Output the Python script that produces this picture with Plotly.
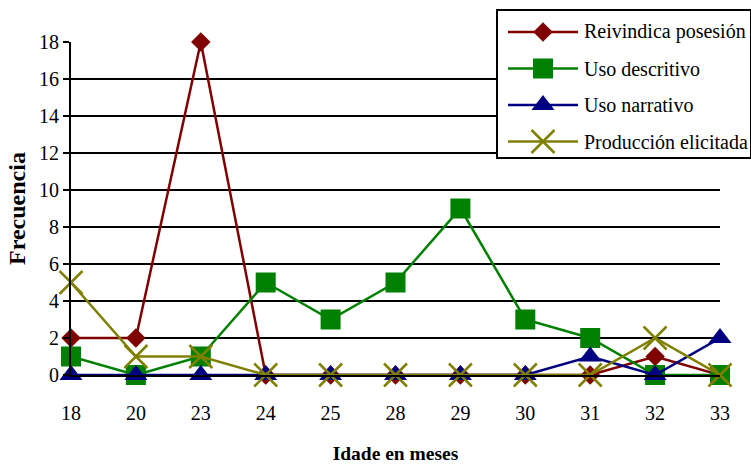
import plotly.graph_objects as go

# Age groups (months) and frequency counts per usage type
edades = ["18", "20", "23", "24", "25", "28", "29", "30", "31", "32", "33"]
reivindica = [2, 2, 18, 0, 0, 0, 0, 0, 0, 1, 0]
descritivo = [1, 0, 1, 5, 3, 5, 9, 3, 2, 0, 0]
narrativo = [0, 0, 0, 0, 0, 0, 0, 0, 1, 0, 2]
elicitada = [5, 1, 1, 0, 0, 0, 0, 0, 0, 2, 0]
y_ticks = [0, 2, 4, 6, 8, 10, 12, 14, 16, 18]

FONT = "Liberation Serif"

series = [
    ("Reivindica posesión", reivindica, "#800000", "diamond", 15),
    ("Uso descritivo", descritivo, "#008000", "square", 20),
    ("Uso narrativo", narrativo, "#000080", "triangle-up", 20),
    ("Producción elicitada", elicitada, "#808000", "x-thin", 23),
]


def marker_style(color, symbol, size):
    m = dict(symbol=symbol, size=size, color=color, line=dict(width=0, color=color))
    if symbol == "x-thin":
        m["line"] = dict(width=2.5, color=color)
    return m


fig = go.Figure()
for name, vals, color, symbol, size in series:
    fig.add_trace(go.Scatter(
        x=edades, y=vals, name=name, mode="lines+markers",
        line=dict(color=color, width=2.5),
        marker=marker_style(color, symbol, size),
        cliponaxis=False, showlegend=False,
    ))

# Boxed legend drawn on its own small subplot (units: pixels inside the box)
LEG_W, LEG_H = 252, 146
row_top, row_gap = 21, 36.5
for i, (name, vals, color, symbol, size) in enumerate(series):
    ry = row_top + i * row_gap
    fig.add_trace(go.Scatter(
        x=[10, 80], y=[ry, ry], mode="lines", xaxis="x2", yaxis="y2",
        line=dict(color=color, width=2.5), showlegend=False, hoverinfo="skip",
    ))
    fig.add_trace(go.Scatter(
        x=[45], y=[ry], mode="markers", xaxis="x2", yaxis="y2",
        marker=marker_style(color, symbol, size), showlegend=False,
        hoverinfo="skip", cliponaxis=False,
    ))
    fig.add_annotation(
        x=84, y=ry, xref="x2", yref="y2", text=name, showarrow=False,
        xanchor="left", yanchor="middle",
        font=dict(family=FONT, size=20, color="black"),
    )

W, H = 751, 464
ML, MB = 71, 89
PW, PH = W - ML, H - MB

fig.update_layout(
    width=W, height=H,
    margin=dict(l=ML, r=0, t=0, b=MB, pad=0, autoexpand=False),
    paper_bgcolor="white", plot_bgcolor="white",
    font=dict(family=FONT, size=20, color="black"),
    showlegend=False,
    xaxis=dict(
        domain=[0, 649 / PW], automargin=False,
        type="category", range=[0, 10], showgrid=False,
        showline=True, linecolor="black", linewidth=2,
        ticks="outside", ticklen=19, tickcolor="rgba(0,0,0,0)",
        tickfont=dict(size=20),
        title=dict(text="<b>Idade en meses</b>", font=dict(size=19.5), standoff=26),
    ),
    yaxis=dict(
        domain=[0, 333 / PH], automargin=False,
        range=[0, 18], tickvals=y_ticks,
        showgrid=True, gridcolor="black", gridwidth=2,
        showline=True, linecolor="black", linewidth=2,
        ticks="outside", ticklen=6, tickwidth=2, tickcolor="black",
        zeroline=False, tickfont=dict(size=20),
        title=dict(text="<b>Frecuencia</b>", font=dict(size=24), standoff=7),
    ),
    xaxis2=dict(
        domain=[(498 - ML) / PW, (750 - ML) / PW], anchor="y2", automargin=False,
        range=[0, LEG_W], showgrid=False, zeroline=False,
        showticklabels=False, ticks="",
        showline=True, mirror=True, linecolor="black", linewidth=2,
    ),
    yaxis2=dict(
        domain=[(PH - 157) / PH, (PH - 11) / PH], anchor="x2", automargin=False,
        range=[LEG_H, 0], showgrid=False, zeroline=False,
        showticklabels=False, ticks="",
        showline=True, mirror=True, linecolor="black", linewidth=2,
    ),
)

fig.write_html("out.html")
